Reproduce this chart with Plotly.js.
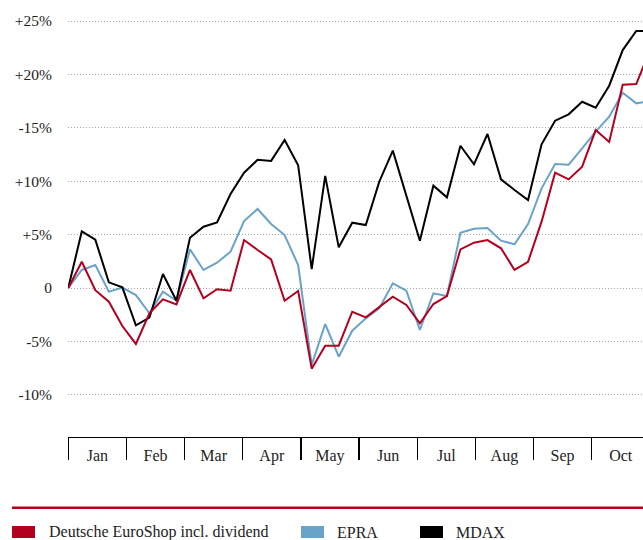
<!DOCTYPE html>
<html>
<head>
<meta charset="utf-8">
<script src="https://cdn.plot.ly/plotly-3.0.1.min.js"></script>
<style>
  html, body { margin: 0; padding: 0; background: #fff; }
  #chart { width: 643px; height: 540px; }
</style>
</head>
<body>
<div id="chart"></div>
<script>
// Weekly performance, % change since start of year
const desValues = [0, 2.46, -0.2, -1.28, -3.56, -5.24, -2.37, -1.06, -1.53, 1.69, -0.97, -0.12, -0.25, 4.49, 3.56, 2.68, -1.19, -0.28, -7.55, -5.4, -5.4, -2.22, -2.75, -1.81, -0.81, -1.59, -3.3, -1.5, -0.75, 3.62, 4.24, 4.49, 3.72, 1.69, 2.46, 6.21, 10.8, 10.17, 11.36, 14.79, 13.67, 19.04, 19.1, 22.2];
const epraValues = [0, 1.69, 2.15, -0.34, 0.03, -0.66, -2.37, -0.34, -1.19, 3.62, 1.69, 2.37, 3.4, 6.27, 7.4, 5.99, 4.96, 2.15, -7.2, -3.37, -6.43, -4.0, -2.84, -1.9, 0.44, -0.25, -3.93, -0.5, -0.75, 5.18, 5.55, 5.62, 4.43, 4.09, 5.99, 9.33, 11.61, 11.55, 13.08, 14.64, 16.04, 18.29, 17.29, 17.5];
const mdaxValues = [0, 5.30, 4.52, 0.53, 0.06, -3.50, -2.78, 1.31, -1.19, 4.71, 5.74, 6.15, 8.8, 10.8, 12.0, 11.9, 13.86, 11.5, 1.78, 10.5, 3.81, 6.12, 5.9, 9.96, 12.86, 8.55, 4.43, 9.58, 8.49, 13.32, 11.58, 14.42, 10.17, 9.18, 8.24, 13.45, 15.67, 16.26, 17.44, 16.88, 18.94, 22.28, 24.06, 24.06];
const seriesNames = ["Deutsche EuroShop incl. dividend", "EPRA", "MDAX"];
const monthLabels = ["Jan", "Feb", "Mar", "Apr", "May", "Jun", "Jul", "Aug", "Sep", "Oct", "Nov", "Dec"];
const yTickValues = [-10, -5, 0, 5, 10, 15, 20, 25];
const yTickLabels = ["-10%", "-5%", "0", "+5%", "+10%", "-15%", "+20%", "+25%"];

const colors = { des: "#b3001e", epra: "#6aa3c8", mdax: "#000000" };
const weeksPerMonth = 4.3;
const weeks = desValues.map((_, i) => i);

const monthCenters = monthLabels.map((_, m) => (m + 0.5) * weeksPerMonth);
const monthBounds = monthLabels.map((_, m) => m * weeksPerMonth).concat([12 * weeksPerMonth]);

const serif = "Liberation Serif";

const traces = [
  { x: weeks, y: epraValues, name: seriesNames[1], mode: "lines", line: { color: colors.epra, width: 2 } },
  { x: weeks, y: mdaxValues, name: seriesNames[2], mode: "lines", line: { color: colors.mdax, width: 2 } },
  { x: weeks, y: desValues, name: seriesNames[0], mode: "lines", line: { color: colors.des, width: 2 } }
];

// Legend built below the plot
const legendItems = [
  { name: seriesNames[0], color: colors.des, sx: -0.0974, tx: -0.0365 },
  { name: seriesNames[1], color: colors.epra, sx: 0.4052, tx: 0.4644 },
  { name: seriesNames[2], color: colors.mdax, sx: 0.6122, tx: 0.6713 }
];
const shapes = [
  { type: "line", xref: "paper", yref: "paper", x0: -0.0974, x1: 1.0, y0: -0.1656, y1: -0.1656,
    line: { color: colors.des, width: 2.5 } }
];
const annotations = [];
legendItems.forEach(it => {
  shapes.push({ type: "rect", xref: "paper", yref: "paper", x0: it.sx, x1: it.sx + 0.04,
    y0: -0.2365, y1: -0.2084, fillcolor: it.color, line: { width: 0 } });
  annotations.push({ xref: "paper", yref: "paper", x: it.tx, y: -0.2225, xanchor: "left", yanchor: "middle",
    text: it.name, showarrow: false, font: { family: serif, size: 16, color: "#222" } });
});

const layout = {
  width: 643, height: 540,
  margin: { l: 68, r: 0, t: 10, b: 103 },
  paper_bgcolor: "#fff", plot_bgcolor: "#fff",
  showlegend: false,
  font: { family: serif },
  xaxis: {
    range: [-0.02, 42.5],
    tickmode: "array", tickvals: monthCenters, ticktext: monthLabels,
    ticks: "", showgrid: false, zeroline: false,
    showline: true, linecolor: "#000", linewidth: 1.3,
    tickfont: { family: serif, size: 16, color: "#222" },
    ticklabelstandoff: 3,
    minor: { tickmode: "array", tickvals: monthBounds, ticks: "outside", ticklen: 22,
      tickcolor: "#000", tickwidth: 1.3, showgrid: false }
  },
  yaxis: {
    range: [-13.95, 26.03],
    tickmode: "array", tickvals: yTickValues, ticktext: yTickLabels,
    ticks: "", showgrid: true, gridcolor: "#a8a8a8", griddash: "1px,2px", gridwidth: 1,
    zeroline: false, showline: false,
    tickfont: { family: serif, size: 15.5, color: "#222" },
    ticklabelstandoff: 15
  },
  shapes: shapes,
  annotations: annotations
};

Plotly.newPlot("chart", traces, layout, { displayModeBar: false, staticPlot: true });
</script>
</body>
</html>
